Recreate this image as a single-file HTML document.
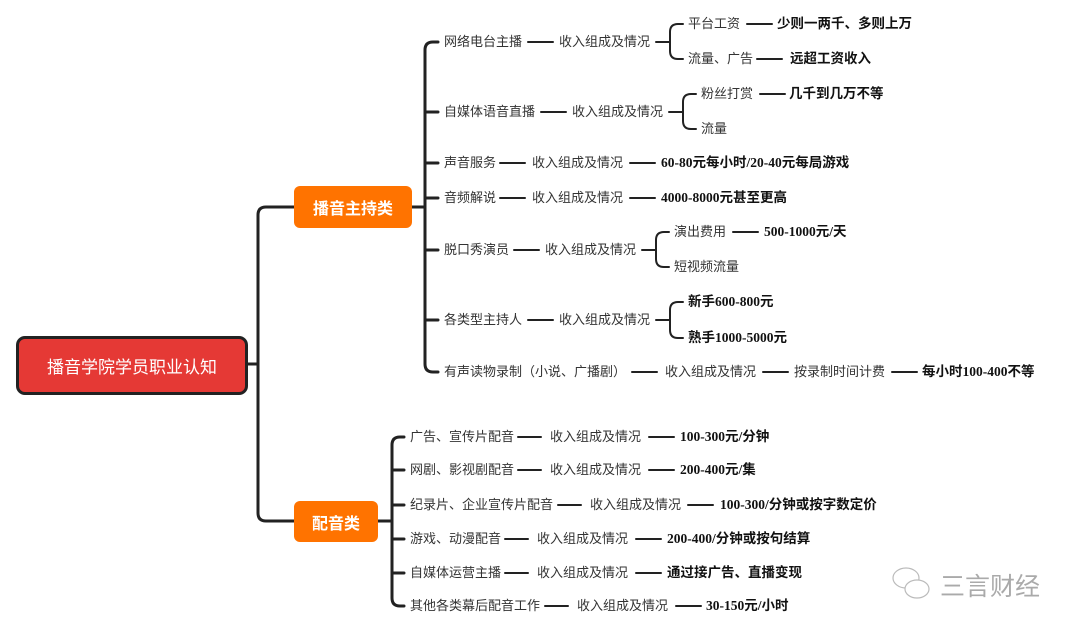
<!DOCTYPE html>
<html><head><meta charset="utf-8"><style>
body{margin:0;width:1080px;height:635px;background:#fff;position:relative;overflow:hidden;font-family:"Liberation Sans","Noto Sans CJK SC",sans-serif;}
.t{position:absolute;font-size:13px;line-height:18px;color:#333;white-space:nowrap;}
.b{font-weight:bold;color:#111;font-family:"Liberation Serif","Noto Sans CJK SC",serif;font-size:13.5px;}
.box{position:absolute;color:#fff;font-weight:bold;display:flex;align-items:center;justify-content:center;}
svg{position:absolute;left:0;top:0;}
</style></head><body>
<svg width="1080" height="635" fill="none" stroke="#222" stroke-linecap="round">
<g stroke-width="3">
<path d="M246 364H258M294 207H266Q258 207 258 215V513Q258 521 266 521H294"/>
<path d="M412 207H425M438 42H433Q425 42 425 50V364Q425 372 433 372H438"/>
<path d="M425 112H438M425 163H438M425 198H438M425 250H438M425 320H438"/>
<path d="M378 521H392M404 437H400Q392 437 392 445V598Q392 606 400 606H404"/>
<path d="M392 470H404M392 505H404M392 539H404M392 573H404"/>
</g>
<g stroke-width="2">
<path d="M656 42H670M683 24H678Q670 24 670 32V51Q670 59 678 59H683"/>
<path d="M669 112H683M696 94H691Q683 94 683 102V121Q683 129 691 129H696"/>
<path d="M642 250H656M669 232H664Q656 232 656 240V259Q656 267 664 267H669"/>
<path d="M656 320H670M683 302H678Q670 302 670 310V330Q670 338 678 338H683"/>
<path d="M528 42H553M747 24H772M757 59H782M541 112H566M760 94H785"/>
<path d="M500 163H525M630 163H655M500 198H525M630 198H655"/>
<path d="M514 250H539M733 232H758M528 320H553"/>
<path d="M632 372H657M763 372H788M892 372H917"/>
<path d="M518 437H541M649 437H674M518 470H541M649 470H674"/>
<path d="M558 505H581M688 505H713M505 539H528M636 539H661M505 573H528M636 573H661"/>
<path d="M545 606H568M676 606H701"/>
</g>
</svg>
<div class="box" style="left:16px;top:336px;width:226px;height:53px;background:#e53935;border:3px solid #222;border-radius:9px;font-weight:normal;font-size:17px;">播音学院学员职业认知</div>
<div class="box" style="left:294px;top:186px;width:118px;height:42px;background:#ff7300;border-radius:6px;font-size:16px;">播音主持类</div>
<div class="box" style="left:294px;top:501px;width:84px;height:41px;background:#ff7300;border-radius:6px;font-size:16px;">配音类</div>

<div class="t" style="left:444px;top:33px">网络电台主播</div>
<div class="t" style="left:559px;top:33px">收入组成及情况</div>
<div class="t" style="left:688px;top:15px">平台工资</div>
<div class="t b" style="left:777px;top:15px">少则一两千、多则上万</div>
<div class="t" style="left:688px;top:50px">流量、广告</div>
<div class="t b" style="left:790px;top:50px">远超工资收入</div>

<div class="t" style="left:444px;top:103px">自媒体语音直播</div>
<div class="t" style="left:572px;top:103px">收入组成及情况</div>
<div class="t" style="left:701px;top:85px">粉丝打赏</div>
<div class="t b" style="left:789px;top:85px">几千到几万不等</div>
<div class="t" style="left:701px;top:120px">流量</div>

<div class="t" style="left:444px;top:154px">声音服务</div>
<div class="t" style="left:532px;top:154px">收入组成及情况</div>
<div class="t b" style="left:661px;top:154px">60-80元每小时/20-40元每局游戏</div>

<div class="t" style="left:444px;top:189px">音频解说</div>
<div class="t" style="left:532px;top:189px">收入组成及情况</div>
<div class="t b" style="left:661px;top:189px">4000-8000元甚至更高</div>

<div class="t" style="left:444px;top:241px">脱口秀演员</div>
<div class="t" style="left:545px;top:241px">收入组成及情况</div>
<div class="t" style="left:674px;top:223px">演出费用</div>
<div class="t b" style="left:764px;top:223px">500-1000元/天</div>
<div class="t" style="left:674px;top:258px">短视频流量</div>

<div class="t" style="left:444px;top:311px">各类型主持人</div>
<div class="t" style="left:559px;top:311px">收入组成及情况</div>
<div class="t b" style="left:688px;top:293px">新手600-800元</div>
<div class="t b" style="left:688px;top:329px">熟手1000-5000元</div>

<div class="t" style="left:444px;top:363px">有声读物录制（小说、广播剧）</div>
<div class="t" style="left:665px;top:363px">收入组成及情况</div>
<div class="t" style="left:794px;top:363px">按录制时间计费</div>
<div class="t b" style="left:922px;top:363px">每小时100-400不等</div>

<div class="t" style="left:410px;top:428px">广告、宣传片配音</div>
<div class="t" style="left:550px;top:428px">收入组成及情况</div>
<div class="t b" style="left:680px;top:428px">100-300元/分钟</div>

<div class="t" style="left:410px;top:461px">网剧、影视剧配音</div>
<div class="t" style="left:550px;top:461px">收入组成及情况</div>
<div class="t b" style="left:680px;top:461px">200-400元/集</div>

<div class="t" style="left:410px;top:496px">纪录片、企业宣传片配音</div>
<div class="t" style="left:590px;top:496px">收入组成及情况</div>
<div class="t b" style="left:720px;top:496px">100-300/分钟或按字数定价</div>

<div class="t" style="left:410px;top:530px">游戏、动漫配音</div>
<div class="t" style="left:537px;top:530px">收入组成及情况</div>
<div class="t b" style="left:667px;top:530px">200-400/分钟或按句结算</div>

<div class="t" style="left:410px;top:564px">自媒体运营主播</div>
<div class="t" style="left:537px;top:564px">收入组成及情况</div>
<div class="t b" style="left:667px;top:564px">通过接广告、直播变现</div>

<div class="t" style="left:410px;top:597px">其他各类幕后配音工作</div>
<div class="t" style="left:577px;top:597px">收入组成及情况</div>
<div class="t b" style="left:706px;top:597px">30-150元/小时</div>

<svg width="1080" height="635" fill="none" stroke="#bbb" stroke-width="1.2">
<ellipse cx="906" cy="578" rx="13" ry="10"/>
<ellipse cx="917" cy="589" rx="12" ry="9" fill="#fff"/>
</svg>
<div class="t" style="left:940px;top:571px;font-size:25px;line-height:32px;color:#aaa;">三言财经</div>
</body></html>
